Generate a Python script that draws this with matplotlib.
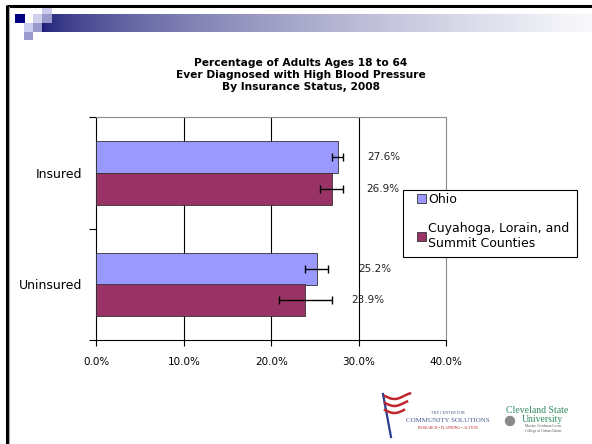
import matplotlib
matplotlib.use('Agg')
import matplotlib.pyplot as plt
import numpy as np
from matplotlib.patches import Rectangle, Circle
from matplotlib.ticker import FuncFormatter

# data
categories = ['Uninsured', 'Insured']
series_names = ['Ohio', 'Cuyahoga, Lorain, and\nSummit Counties']
ohio = [25.2, 27.6]
ohio_err = [1.3, 0.6]
cuyahoga = [23.9, 26.9]
cuyahoga_err = [3.0, 1.3]
x_ticks = [0, 10, 20, 30, 40]
title = 'Percentage of Adults Ages 18 to 64\nEver Diagnosed with High Blood Pressure\nBy Insurance Status, 2008'

# styling
ohio_color = '#9999FF'
cuy_color = '#993366'
bar_h = 0.287
# where the value labels sit, relative to the bar end (data units)
ohio_shift = [4.8, 3.4]
cuy_shift = [5.2, 3.95]

fig = plt.figure(figsize=(5.92, 4.44), dpi=100)

# slide decoration layer in pixel coords
deco = fig.add_axes([0, 0, 1, 1], zorder=0)
deco.set_xlim(0, 592)
deco.set_ylim(444, 0)
deco.axis('off')

grad = np.linspace(0, 1, 256) ** 0.6
c0 = np.array([0.11, 0.11, 0.47])
c1 = np.array([0.98, 0.98, 0.99])
img = c0[None, :] + (c1 - c0)[None, :] * grad[:, None]
deco.imshow(img[None, :, :], extent=[41.7, 592, 31.7, 14], aspect='auto')

squares = [(41.7, 7.3, 10, 6.7, '#ccccee'),
           (15, 14, 10, 8.7, '#000080'),
           (33, 14, 8.7, 8.7, '#d0d0ec'),
           (41.7, 14, 10, 8.7, '#9999cc'),
           (24, 22.7, 9, 9, '#ccccee'),
           (33, 22.7, 8.7, 9, '#9999cc'),
           (24, 31.7, 9, 8.7, '#9999cc')]
for sx, sy, sw, sh, sc in squares:
    deco.add_patch(Rectangle((sx, sy), sw, sh, color=sc, lw=0))

# black slide frame (top + left)
deco.plot([7, 592], [6, 6], color='black', lw=2.2, solid_capstyle='butt')
deco.plot([7, 7], [5, 444], color='black', lw=2.2, solid_capstyle='butt')
deco.plot([9, 9], [7, 444], color='#aaaaaa', lw=0.8)

# logos (rough)
deco.plot([383, 391], [394, 437], color='#2b3f8f', lw=1.6)
for k, yy in enumerate([396, 403, 410]):
    xs = np.linspace(385, 410 - k * 3, 30)
    ys = yy + 3 * np.sin((xs - 385) / 6.0)
    deco.plot(xs, ys, color='#c0262d', lw=1.8)
deco.text(448, 413, 'THE CENTER FOR', fontsize=3, color='#4a5a8c', ha='center', va='center', family='Liberation Serif')
deco.text(448, 420, 'COMMUNITY SOLUTIONS', fontsize=5, color='#4a5a8c', ha='center', va='center', family='Liberation Serif')
deco.text(448, 428, 'RESEARCH \u2022 PLANNING \u2022 ACTION', fontsize=2.8, color='#c0262d', ha='center', va='center', family='Liberation Serif')
deco.text(537, 410, 'Cleveland State', fontsize=7, color='#2e8b62', ha='center', va='center', family='Liberation Serif')
deco.text(542, 419, 'University', fontsize=7, color='#2e8b62', ha='center', va='center', family='Liberation Serif')
deco.text(543, 426, 'Maxine Goodman Levin', fontsize=2.6, color='#555555', ha='center', va='center', family='Liberation Serif')
deco.text(543, 431, 'College of Urban Affairs', fontsize=2.6, color='#555555', ha='center', va='center', family='Liberation Serif')
deco.add_patch(Circle((510, 421), 4.5, color='#8a8a8a'))

# title
fig.text(0.508, 1 - 75 / 444, title, ha='center', va='center', fontsize=7.7,
         fontweight='bold', linespacing=1.3)

# chart
ax = fig.add_axes([96.5 / 592, 1 - 340 / 444, (446 - 96.5) / 592, 223 / 444], zorder=1)
ax.patch.set_alpha(0)
y = np.arange(len(categories))
ax.barh(y + 0.14, ohio, height=bar_h, color=ohio_color, edgecolor='#333333', lw=0.6,
        xerr=ohio_err, error_kw=dict(ecolor='black', elinewidth=1, capsize=2.6, capthick=1),
        label=series_names[0], zorder=3)
ax.barh(y - 0.145, cuyahoga, height=bar_h, color=cuy_color, edgecolor='#333333', lw=0.6,
        xerr=cuyahoga_err, error_kw=dict(ecolor='black', elinewidth=1, capsize=2.6, capthick=1),
        label=series_names[1], zorder=3)

for i in range(len(categories)):
    ax.text(ohio[i] + ohio_shift[i], y[i] + 0.14, f'{ohio[i]:.1f}%', va='center', ha='left',
            fontsize=7.5, color='#222222')
    ax.text(cuyahoga[i] + cuy_shift[i], y[i] - 0.145, f'{cuyahoga[i]:.1f}%', va='center', ha='left',
            fontsize=7.5, color='#222222')

ax.set_xlim(0, 40)
ax.set_ylim(-0.5, 1.5)
ax.set_xticks(x_ticks)
ax.xaxis.set_major_formatter(FuncFormatter(lambda v, p: f'{v:.1f}%'))
ax.tick_params(axis='x', labelsize=7.5, length=4, width=0.8, pad=8, colors='black')
for gx in x_ticks[1:-1]:
    ax.axvline(gx, color='black', lw=0.8, zorder=1)

ax.set_yticks(y)
ax.set_yticklabels(categories, fontsize=9)
ax.set_yticks([-0.5, 0.5, 1.5], minor=True)
ax.tick_params(axis='y', which='major', length=0, pad=10)
ax.tick_params(axis='y', which='minor', length=5, width=0.8)

ax.spines['left'].set_color('black')
ax.spines['bottom'].set_color('black')
ax.spines['left'].set_linewidth(0.8)
ax.spines['bottom'].set_linewidth(0.8)
ax.spines['top'].set_color('#8c8c8c')
ax.spines['right'].set_color('#8c8c8c')
ax.spines['top'].set_linewidth(0.8)
ax.spines['right'].set_linewidth(0.8)

# legend: white box drawn separately, entries placed inside it
box_ax = fig.add_axes([0, 0, 1, 1], zorder=4)
box_ax.set_xlim(0, 592)
box_ax.set_ylim(444, 0)
box_ax.axis('off')
box_ax.add_patch(Rectangle((403, 190), 174, 67, facecolor='white', edgecolor='black', lw=0.8))

leg = box_ax.legend(*ax.get_legend_handles_labels(), loc='upper left',
                    bbox_to_anchor=(417 / 592, 1 - 192.5 / 444),
                    bbox_transform=fig.transFigure, fontsize=9, frameon=False,
                    handlelength=0.72, handleheight=0.72, handletextpad=0.2,
                    borderpad=0, labelspacing=1.3, borderaxespad=0)

fig.savefig('out.png', dpi=100)
